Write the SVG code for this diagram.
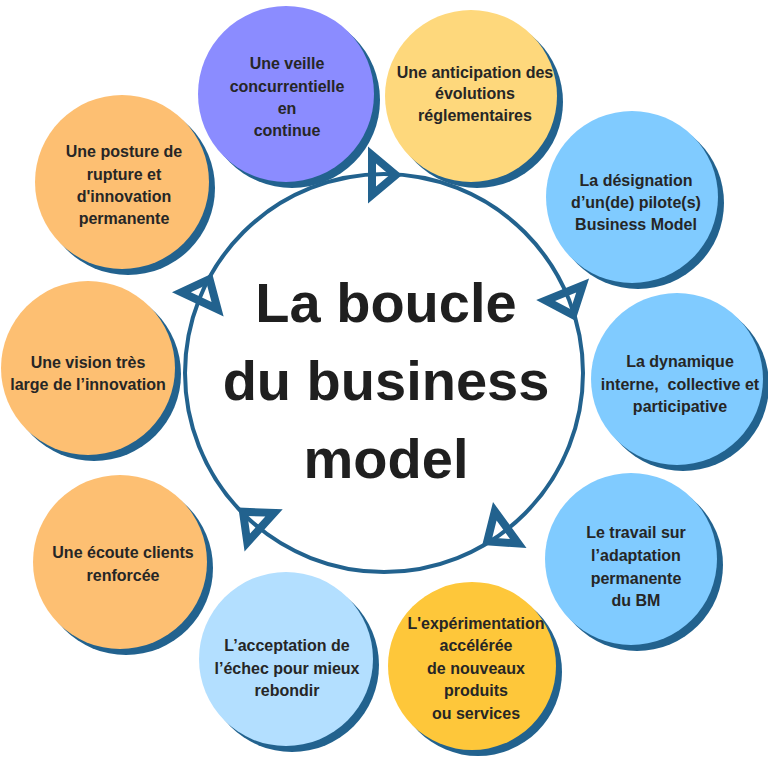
<svg xmlns="http://www.w3.org/2000/svg" xmlns:xlink="http://www.w3.org/1999/xlink" width="768" height="768" viewBox="0 0 768 768">
  <defs>
    <path id="arrow" d="M-17,-28.5 L-17,28.5 L17,0 Z M-9,-11.4 L4.6,0 L-9,11.4 Z" fill-rule="evenodd"/>
  </defs>
  <style>
    .shadow { fill: #22628e; }
    .t { font-family: "Liberation Sans", Arial, sans-serif; font-weight: bold; font-size: 16px; fill: #262626; text-anchor: middle; }
    .title { font-family: "Liberation Sans", Arial, sans-serif; font-weight: bold; font-size: 56px; fill: #1f1f1f; text-anchor: middle; }
    .ring { fill: none; stroke: #22628e; stroke-width: 4; }
    .arr { fill: #22628e; }
  </style>
  <rect width="768" height="768" fill="#ffffff"/>

  <g id="connectors">
    <circle class="ring" cx="384" cy="373" r="199"/>
    <use xlink:href="#arrow" class="arr" transform="translate(385,175) rotate(0)"/>
    <use xlink:href="#arrow" class="arr" transform="translate(569,305) rotate(68)"/>
    <use xlink:href="#arrow" class="arr" transform="translate(496,535) rotate(144)"/>
    <use xlink:href="#arrow" class="arr" transform="translate(251,519) rotate(222)"/>
    <use xlink:href="#arrow" class="arr" transform="translate(205,289) rotate(295)"/>
  </g>

  <g id="center">
    <text class="title" x="386" y="322">La boucle</text>
    <text class="title" x="386" y="400">du business</text>
    <text class="title" x="386" y="478">model</text>
  </g>

  <g id="veille">
    <circle class="shadow" cx="292" cy="100" r="88"/>
    <circle cx="286" cy="94" r="88" fill="#8b8cff"/>
    <text class="t" x="287" y="69">Une veille</text>
    <text class="t" x="287" y="92">concurrentielle</text>
    <text class="t" x="287" y="114">en</text>
    <text class="t" x="287" y="136">continue</text>
  </g>

  <g id="anticipation">
    <circle class="shadow" cx="477" cy="102" r="86"/>
    <circle cx="471" cy="96" r="86" fill="#fed87c"/>
    <text class="t" x="475" y="78">Une anticipation des</text>
    <text class="t" x="475" y="99">évolutions</text>
    <text class="t" x="475" y="121">réglementaires</text>
  </g>

  <g id="designation">
    <circle class="shadow" cx="638" cy="203" r="86"/>
    <circle cx="632" cy="197" r="86" fill="#80cbff"/>
    <text class="t" x="636" y="186">La désignation</text>
    <text class="t" x="636" y="208">d’un(de) pilote(s)</text>
    <text class="t" x="636" y="230">Business Model</text>
  </g>

  <g id="dynamique">
    <circle class="shadow" cx="683" cy="385" r="86"/>
    <circle cx="677" cy="379" r="86" fill="#80cbff"/>
    <text class="t" x="680" y="367">La dynamique</text>
    <text class="t" x="680" y="390" xml:space="preserve">interne,  collective et</text>
    <text class="t" x="680" y="412">participative</text>
  </g>

  <g id="travail">
    <circle class="shadow" cx="637" cy="565" r="86"/>
    <circle cx="631" cy="559" r="86" fill="#80cbff"/>
    <text class="t" x="636" y="538">Le travail sur</text>
    <text class="t" x="636" y="561">l’adaptation</text>
    <text class="t" x="636" y="584">permanente</text>
    <text class="t" x="636" y="606">du BM</text>
  </g>

  <g id="experimentation">
    <circle class="shadow" cx="478" cy="672" r="84"/>
    <circle cx="472" cy="666" r="84" fill="#fec73a"/>
    <text class="t" x="476" y="629">L'expérimentation</text>
    <text class="t" x="476" y="651">accélérée</text>
    <text class="t" x="476" y="674">de nouveaux</text>
    <text class="t" x="476" y="696">produits</text>
    <text class="t" x="476" y="719">ou services</text>
  </g>

  <g id="acceptation">
    <circle class="shadow" cx="292" cy="665" r="87"/>
    <circle cx="286" cy="659" r="87" fill="#b3dfff"/>
    <text class="t" x="287" y="651">L’acceptation de</text>
    <text class="t" x="287" y="674">l’échec pour mieux</text>
    <text class="t" x="287" y="696">rebondir</text>
  </g>

  <g id="ecoute">
    <circle class="shadow" cx="126" cy="568" r="87"/>
    <circle cx="120" cy="562" r="87" fill="#fdbf72"/>
    <text class="t" x="123" y="558">Une écoute clients</text>
    <text class="t" x="123" y="581">renforcée</text>
  </g>

  <g id="vision">
    <circle class="shadow" cx="94" cy="374" r="87"/>
    <circle cx="88" cy="368" r="87" fill="#fdbf72"/>
    <text class="t" x="88" y="368">Une vision très</text>
    <text class="t" x="88" y="390">large de l’innovation</text>
  </g>

  <g id="posture">
    <circle class="shadow" cx="128" cy="188" r="87"/>
    <circle cx="122" cy="182" r="87" fill="#fdbf72"/>
    <text class="t" x="124" y="157">Une posture de</text>
    <text class="t" x="124" y="180">rupture et</text>
    <text class="t" x="124" y="202">d'innovation</text>
    <text class="t" x="124" y="224">permanente</text>
  </g>
</svg>
